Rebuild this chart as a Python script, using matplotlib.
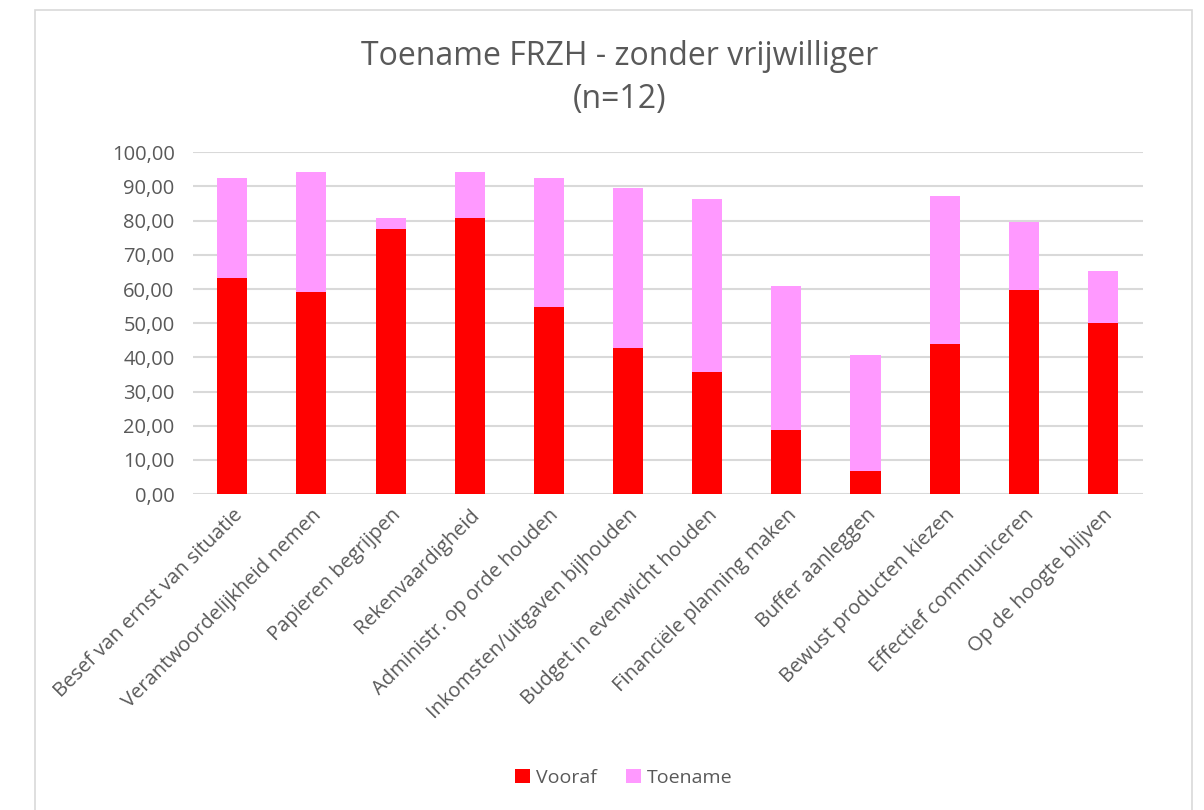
import numpy as np
import matplotlib.pyplot as plt
from matplotlib.patches import Rectangle

# chart values (percentages)
categories = ['Besef van ernst van situatie', 'Verantwoordelijkheid nemen', 'Papieren begrijpen',
              'Rekenvaardigheid', 'Administr. op orde houden', 'Inkomsten/uitgaven bijhouden',
              'Budget in evenwicht houden', 'Financiële planning maken', 'Buffer aanleggen',
              'Bewust producten kiezen', 'Effectief communiceren', 'Op de hoogte blijven']
vooraf = [63.33, 59.17, 77.67, 80.83, 54.83, 42.67, 35.83, 18.67, 6.83, 44.00, 59.83, 50.00]
totaal = [92.50, 94.17, 80.83, 94.17, 92.50, 89.67, 86.33, 60.83, 40.83, 87.17, 79.50, 65.33]
toename = [t - v for t, v in zip(totaal, vooraf)]

plt.rcParams['font.family'] = ['Open Sans', 'DejaVu Sans']
grey = '#595959'

fig = plt.figure(figsize=(12.04, 8.10), dpi=100)
ax = fig.add_axes([0.160, 0.390, 0.789, 0.422])

# chart border as in Excel
fig.patches.append(Rectangle((35/1204, -0.01), 1157/1204, 1 - 10/810 + 0.01,
                             transform=fig.transFigure, fill=False,
                             edgecolor='#d9d9d9', linewidth=1.2))

x = np.arange(len(categories))
ax.bar(x, vooraf, width=0.38, color='#ff0000', label='Vooraf', zorder=3)
ax.bar(x, toename, width=0.38, bottom=vooraf, color='#ff99ff', label='Toename', zorder=3)

ax.set_xlim(-0.5, len(categories) - 0.5)
ax.set_ylim(0, 100)
ax.set_yticks(np.arange(0, 101, 10))
ax.set_yticklabels([f'{v:.2f}'.replace('.', ',') for v in np.arange(0, 101, 10)],
                   fontsize=14.5, color=grey)
ax.set_xticks(x)
ax.set_xticklabels(categories, rotation=45, ha='right', rotation_mode='anchor',
                   fontsize=14.5, color=grey)
ax.tick_params(axis='y', length=0, pad=13)
ax.tick_params(axis='x', length=0, pad=8)
ax.grid(axis='y', color='#d9d9d9', linewidth=1.5, zorder=0)
for s in ax.spines.values():
    s.set_visible(False)

fig.text(0.515, 0.904, 'Toename FRZH - zonder vrijwilliger\n(n=12)', ha='center', va='center',
         fontsize=23, color=grey, linespacing=1.4)

fig.legend(loc='center', bbox_to_anchor=(0.518, 0.04), ncol=2, frameon=False,
           fontsize=14, labelcolor=grey, handlelength=0.8, handleheight=0.8,
           handletextpad=0.3, columnspacing=1.5)

fig.savefig('out.png', dpi=100)
